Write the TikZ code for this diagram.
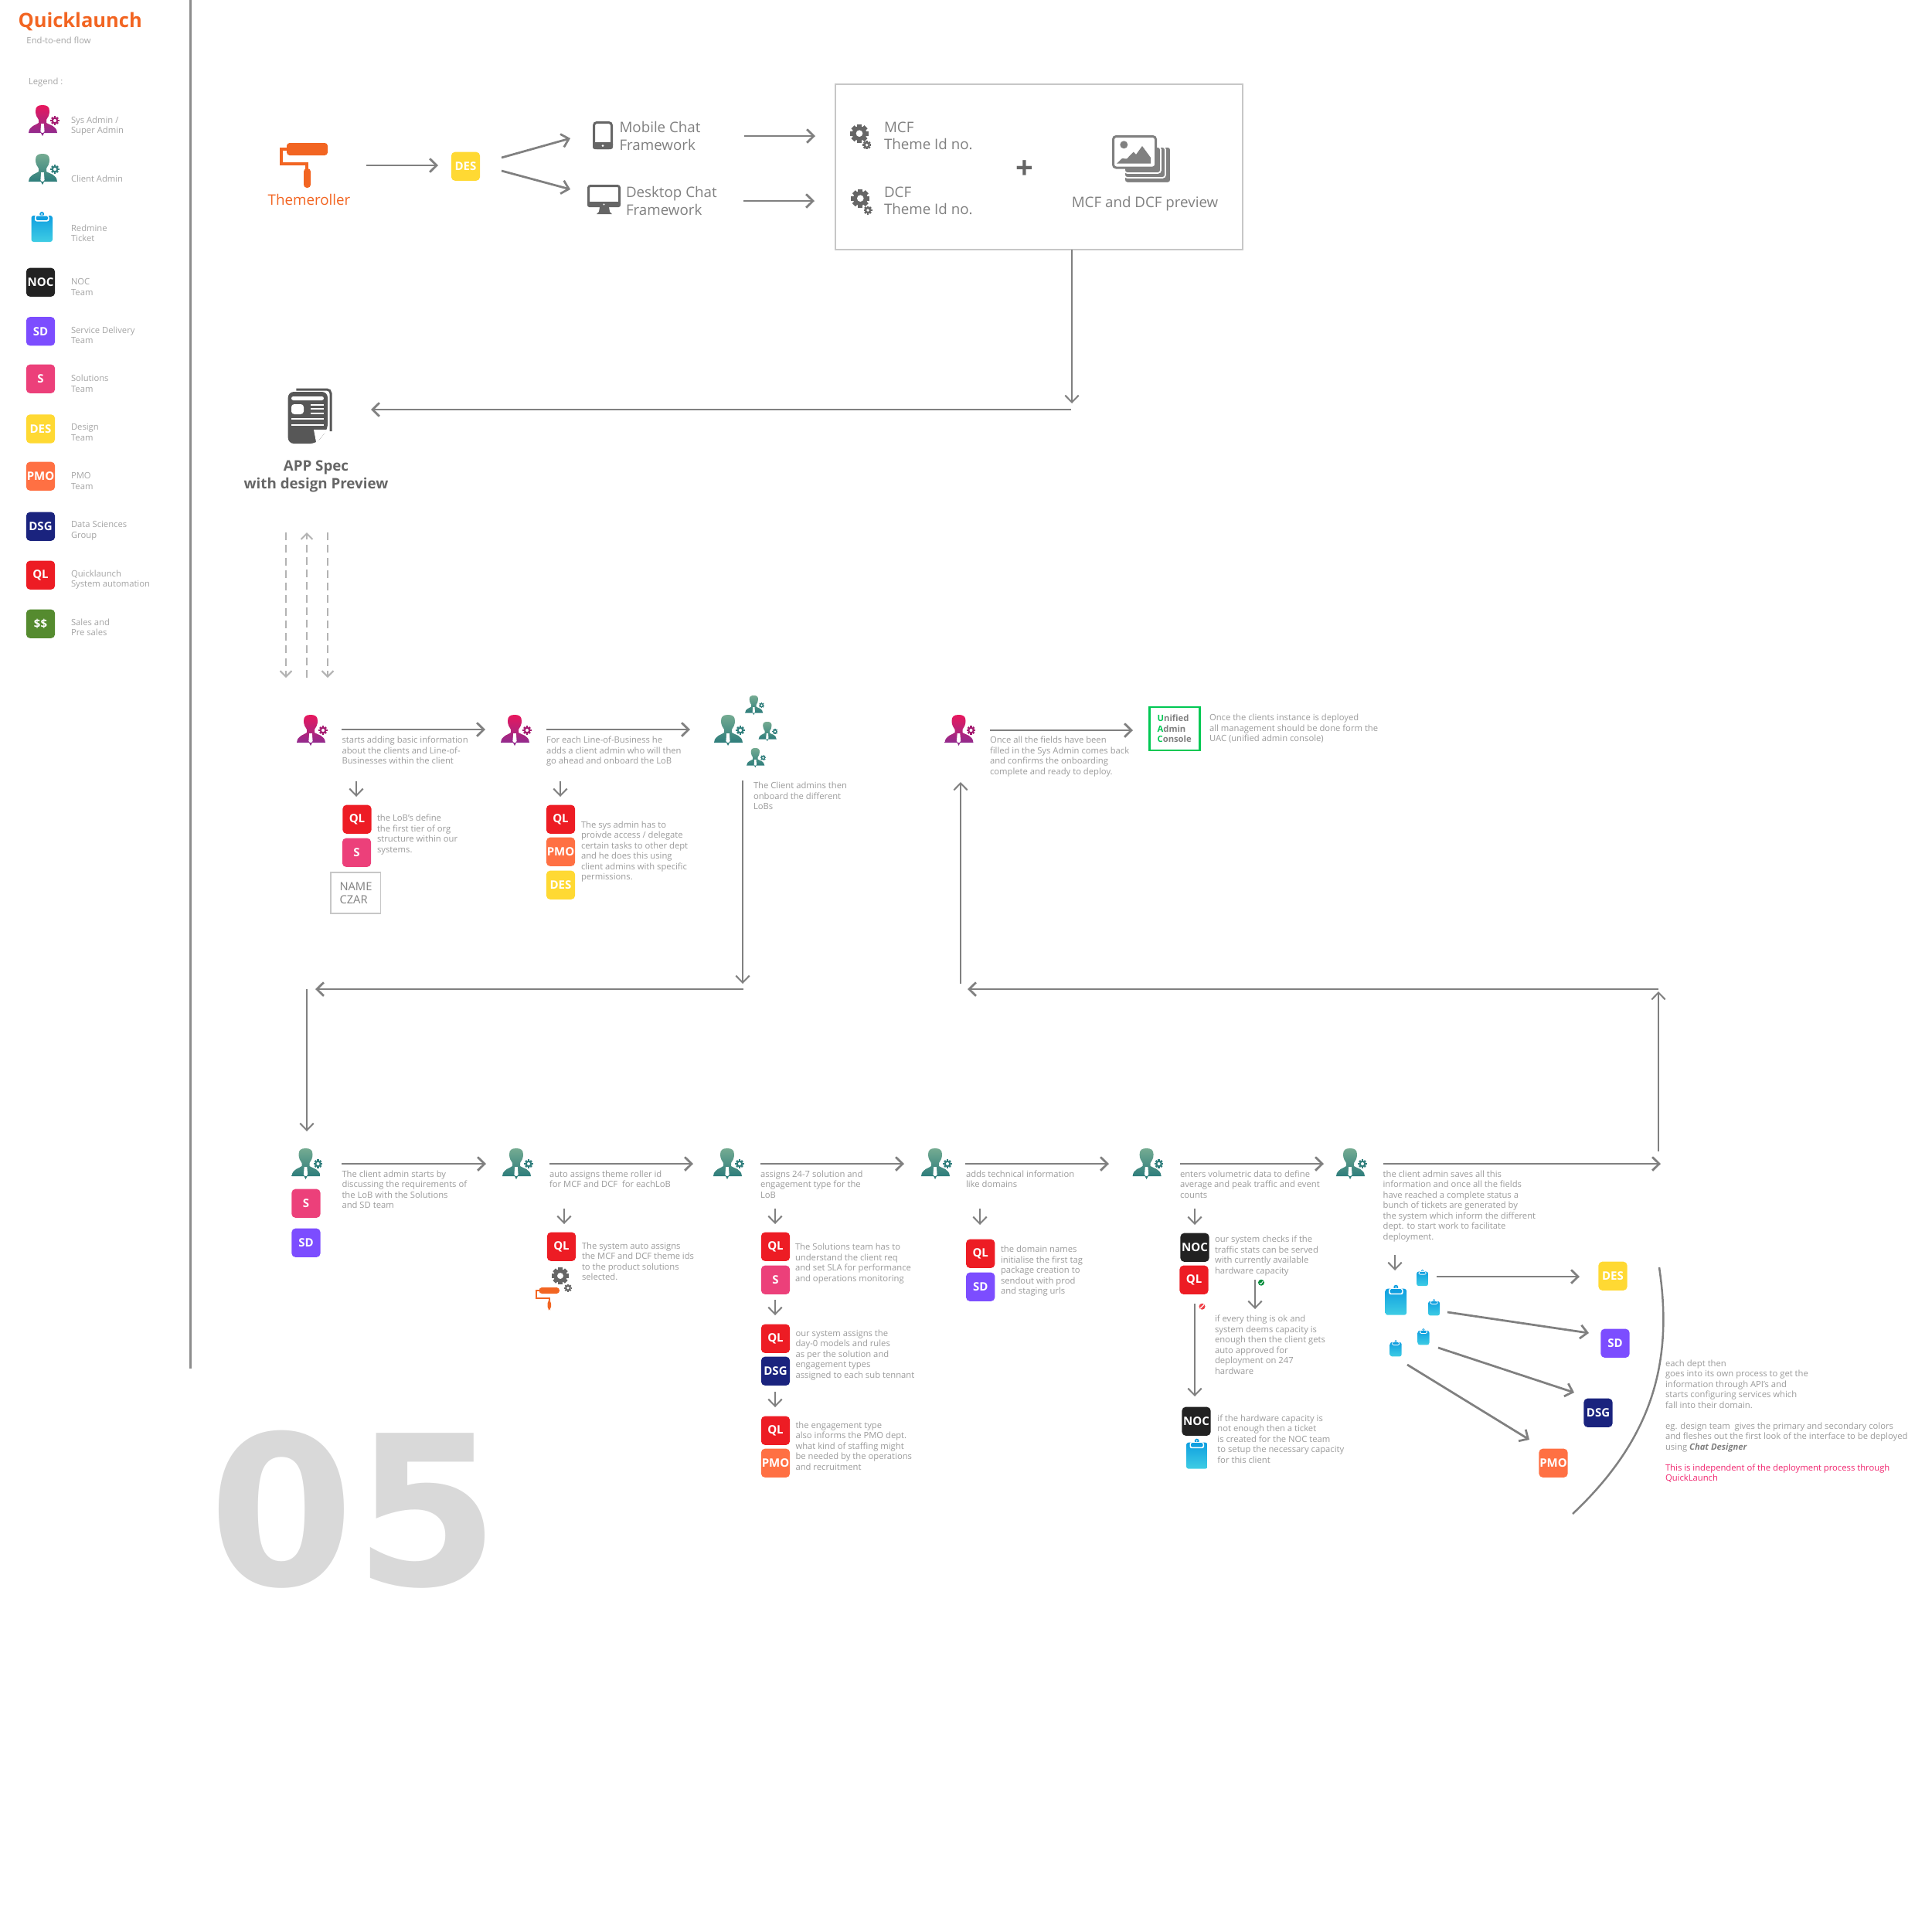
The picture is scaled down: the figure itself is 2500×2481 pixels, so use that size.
\documentclass[tikz,border=0pt]{standalone}
\usepackage{fontspec}
\setmainfont{Open Sans}
\newfontfamily\numfont{DejaVu Sans}
\usetikzlibrary{arrows.meta}
\definecolor{colDES}{HTML}{FFD933}
\definecolor{colSD}{HTML}{7C4DFF}
\definecolor{colS}{HTML}{EC407A}
\definecolor{colNOC}{HTML}{222222}
\definecolor{colPMO}{HTML}{FF7043}
\definecolor{colDSG}{HTML}{1A237E}
\definecolor{colQL}{HTML}{ED1C24}
\definecolor{colSS}{HTML}{558B2F}
\definecolor{colOrange}{HTML}{F26522}
\definecolor{colLine}{HTML}{808080}
\definecolor{colText}{HTML}{9A9A9A}
\definecolor{colIcon}{HTML}{666666}
\definecolor{colUAC}{HTML}{00C853}
\definecolor{colPink}{HTML}{F0246E}
\definecolor{colSysTop}{HTML}{E8175D}
\definecolor{colSysBot}{HTML}{912B8E}
\definecolor{colSysGear}{HTML}{A3186F}
\definecolor{colCliTop}{HTML}{75AB92}
\definecolor{colCliBot}{HTML}{2E7D7B}
\definecolor{colTkTop}{HTML}{0F9FE0}
\definecolor{colTkBot}{HTML}{3FCDE4}
\newcommand{\geardraw}[1]{
    \foreach \a in {0,45,...,315} \fill[#1,rotate=\a] (-.24,.7) rectangle (.24,1);
    \fill[#1] (0,0) circle (.78);
    \fill[white] (0,0) circle (.36);
}
\tikzset{
    flow/.style={draw=colLine,line width=1.1pt,-{Straight Barb[length=3.6pt,width=7pt]}},
    thinflow/.style={flow,line width=0.8pt},
    plainline/.style={draw=colLine,line width=1pt},
    dashflow/.style={draw=colLine!60,line width=0.8pt,dash pattern=on 4pt off 2.5pt,-{Straight Barb[length=3pt,width=6pt]}},
    bodytext/.style={anchor=north west,inner sep=0pt,outer sep=0pt,align=left,yshift=1.8pt,text=colText,font=\fontsize{4.5}{5.4}\selectfont,execute at begin node=\strut},
    legendtext/.style={bodytext,text=colText!90},
    midtext/.style={anchor=north west,inner sep=0pt,outer sep=0pt,align=left,yshift=2.6pt,text=colLine,font=\fontsize{7.5}{9}\selectfont,execute at begin node=\strut},
    badge/.style={rounded corners=2pt,minimum width=14.9pt,minimum height=14.9pt,inner sep=0pt,yshift=-0.5pt,text=white,font=\fontsize{6}{6}\selectfont\bfseries},
    framebox/.style={draw=black!22,line width=0.8pt},
    pics/gear/.style={code={\geardraw{#1}}},
    pics/person/.style n args={3}{code={
        \shade[top color=#1,bottom color=#2] (18,0) .. controls (24,0) and (27,2) .. (27,8) .. controls (27,13) and (25,16) .. (23,19) -- (23,23) .. controls (27,26) and (36,26) .. (37,36) -- (0,36) .. controls (1,26) and (10,26) .. (13,23) -- (13,19) .. controls (11,16) and (9,13) .. (9,8) .. controls (9,2) and (12,0) .. (18,0) -- cycle;
        \fill[white] (16.2,24) -- (19.8,24) -- (20.6,34) -- (18,37) -- (15.4,34) -- cycle;
        \fill[#2] (16,36) -- (20,36) -- (18,40) -- cycle;
        \begin{scope}[shift={(34,20)},scale=5.6]\geardraw{#3}\end{scope}
    }},
    pics/sysadmin/.style={/tikz/pics/person={colSysTop}{colSysBot}{colSysGear}},
    pics/clientadmin/.style={/tikz/pics/person={colCliTop}{colCliBot}{colCliBot}},
    pics/ticket/.style={code={
        \shade[top color=colTkTop,bottom color=colTkBot,rounded corners=1.2pt] (0,5) rectangle (27.5,39);
        \fill[colTkTop] (13.7,3) circle (3);
        \fill[white] (13.7,3) circle (1);
        \fill[white,rounded corners=1pt] (4.5,4.5) rectangle (23,12.5);
        \fill[colTkTop,rounded corners=.6pt] (6,5.5) rectangle (21.5,10.8);
    }},
    pics/roller/.style={code={
        \draw[colOrange,line width=#1] (10,8) -- (2,8) -- (2,27) -- (35,27) -- (35,34);
        \fill[colOrange,rounded corners=1.5pt] (9,0) rectangle (62,16);
        \fill[colOrange,rounded corners=1.6pt] (31,33) rectangle (40,58);
    }}
}
\begin{document}
\begin{tikzpicture}[x=0.4pt,y=-0.4pt]
\useasboundingbox (0,0) rectangle (2500,2481);
\foreach \n/\x/\y in {side1/246/0,side2/246/1771,
    rollS/474/214,rollE/567/214,desU1/649/204,desU2/738/179,desD1/649/221,desD2/738/245,
    mobS/963/176,mobE/1055/176,deskS/962/260,deskE/1054/260,boxS/1387/323,boxE/1387/522,
    specS/1386/530,specE/480/530,
    dashA1/370/689,dashA2/370/877,dashB1/397/877,dashB2/397/689,dashC1/424/689,dashC2/424/877,
    sysA1/442/944,sysA2/628/944,sysB1/707/944,sysB2/893/944,downA1/461/1011,downA2/461/1031,downB1/725/1011,downB2/725/1031,
    cliS/961/1010,cliE/961/1273,backS/962/1280,backE/408/1280,leftS/397/1280,leftE/397/1464,
    rgtS/2146/1490,rgtE/2146/1283,longS/2146/1280,longE/1252/1280,upS/1243/1273,upE/1243/1012,
    uacS/1281/945,uacE/1466/945,
    rowA1/442/1506,rowA2/629/1506,rowB1/711/1506,rowB2/897/1506,rowC1/984/1506,rowC2/1170/1506,
    rowD1/1249/1506,rowD2/1435/1506,rowE1/1527/1506,rowE2/1713/1506,rowF1/1790/1506,rowF2/2149/1506,
    dnB1/730/1564,dnB2/730/1584,dnC1/1003/1564,dnC2/1003/1584,dnD1/1003/1682,dnD2/1003/1702,dnE1/1003/1801,dnE2/1003/1821,
    dnF1/1268/1564,dnF2/1268/1585,dnG1/1546/1564,dnG2/1546/1585,okS/1624/1656,okE/1624/1694,noS/1546/1687,noE/1546/1807,
    dnH1/1805/1624,dnH2/1805/1644,
    tkA1/1859/1652,tkA2/2044/1652,tkB1/1873/1698,tkB2/2056/1725,tkC1/1861/1744,tkC2/2037/1802,tkD1/1821/1766,tkD2/1979/1863,
    arcS/2147/1640,arcE/2035/1959}
    \coordinate (\n) at (\x,\y);
\draw[colLine!90,line width=1.2pt] (side1)--(side2);
\node[anchor=west,inner sep=0pt,text=colOrange,font=\fontsize{10.2}{12}\selectfont\bfseries] (title) at (23,28) {Quicklaunch};
\node[legendtext] (subtitle) at (34.5,51.5) {End-to-end flow};
\node[legendtext] (legendhead) at (37,105) {Legend :};
\foreach \n/\y/\t in {legSys/155/{Sys Admin /\\Super Admin},legCli/231/{Client Admin},legTk/295/{Redmine\\Ticket},legNOC/365/{NOC\\Team},legSD/427/{Service Delivery\\Team},legS/489.6/{Solutions\\Team},legDES/553/{Design\\Team},legPMO/616/{PMO\\Team},legDSG/679/{Data Sciences\\Group},legQL/742/{Quicklaunch\\System automation},legSS/805/{Sales and\\Pre sales}}
    \node[legendtext] (\n) at (92,\y) {\t};
\pic at (37,136) {sysadmin};
\pic at (37,199) {clientadmin};
\pic at (40.5,274) {ticket};
\foreach \n/\t/\x/\y in {bNOC/NOC/52.5/364,bSD/SD/52.5/427.5,bS/S/52.5/489,bDES/DES/52.5/553.7,bPMO/PMO/52.5/615,bDSG/DSG/52.5/680,bQL/QL/52.5/743,
    topDES/DES/602.5/214,aQL/QL/462/1059,aS/S/461.5/1102,cQL/QL/725.5/1059,cPMO/PMO/725.5/1101,cDES/DES/725.5/1144,
    dS/S/396/1556,dSD/SD/396/1607,eQL/QL/726.5/1612,fQL/QL/1003.5/1612,fS/S/1003.5/1655,gQL/QL/1003.5/1731,gDSG/DSG/1003.5/1773,hQL/QL/1003.5/1850,hPMO/PMO/1003.5/1892,
    iQL/QL/1268.7/1621,iSD/SD/1268.7/1664,jNOC/NOC/1546/1613,jQL/QL/1545/1655,kNOC/NOC/1548/1838,
    mDES/DES/2087/1650,mSD/SD/2090/1737,mDSG/DSG/2068/1827,mPMO/PMO/2010/1892}
    \node[badge,fill=col\t] (\n) at (\x,\y) {\t};
\node[badge,fill=colSS] (bSS) at (52.5,806) {\$\$};
\pic at (362,185) {roller=1.4pt};
\node[inner sep=0pt,text=colOrange,font=\fontsize{7.5}{9}\selectfont] (themeroller) at (400,258.5) {Themeroller};
\draw[colIcon,line width=1.2pt,rounded corners=1.5pt] (768.5,158.5) rectangle (791.5,191.5);
\fill[colIcon,rounded corners=1pt] (767,184) rectangle (793,193);
\fill[white] (780,188.5) circle (1.5);
\draw[colIcon,line width=1.2pt,rounded corners=1pt] (761.5,240.5) rectangle (801.5,266);
\fill[colIcon,rounded corners=1pt] (760,261) rectangle (803,268);
\fill[white] (781.5,264.5) circle (1.2);
\fill[colIcon] (776,268) -- (788,268) -- (789,274) -- (792,277) -- (772,277) -- (775,274) -- cycle;
\node[midtext] (mobile) at (801.5,164) {Mobile Chat\\Framework};
\node[midtext] (desktop) at (810,248) {Desktop Chat\\Framework};
\draw[framebox] (1081,109) rectangle (1608,323);
\pic[scale=12] at (1112,172.7) {gear=colIcon};
\pic[scale=5.5] at (1121.7,187.7) {gear=colIcon};
\pic[scale=12] at (1113.3,256.7) {gear=colIcon};
\pic[scale=5.5] at (1123,272) {gear=colIcon};
\node[midtext] (mcf) at (1144,164) {MCF\\Theme Id no.};
\node[midtext] (dcf) at (1144,248) {DCF\\Theme Id no.};
\node[inner sep=0pt,text=colIcon,font=\fontsize{16}{16}\selectfont\bfseries] (plus) at (1326,220) {+};
\foreach \r/\b in {1515/236.7,1508/230,1502/224}
    \fill[colLine,draw=white,line width=0.7pt,rounded corners=1.5pt] (1455,190) rectangle (\r,\b);
\draw[colLine,fill=white,line width=1.2pt,rounded corners=1.5pt] (1440.5,176.5) rectangle (1495.5,217);
\fill[colLine] (1454.3,187.3) circle (5);
\fill[colLine] (1445,211.7) -- (1452,205) -- (1458,205.5) -- (1466.7,196.7) -- (1470,200) -- (1478,189) -- (1489,204) -- (1489,211.7) -- cycle;
\node[inner sep=0pt,text=colLine,font=\fontsize{7.5}{9}\selectfont] (preview) at (1481.5,263.5) {MCF and DCF preview};
\draw[colIcon!85!black,line width=1.2pt,rounded corners=2pt] (383.3,504) -- (428,504) -- (428,558);
\fill[colIcon!85!black,rounded corners=3pt] (372.7,507) -- (424,507) -- (424,556) -- (409,574) -- (372.7,574) -- cycle;
\fill[white] (406,556) -- (424,556) -- (409.3,573.3) -- cycle;
\fill[white,rounded corners=1pt] (377,513) rectangle (419,518);
\fill[white,rounded corners=1.5pt] (377,523) rectangle (393,536);
\foreach \y in {524.3,529.3,534.7} \fill[white] (401.7,\y-1) rectangle (419,\y+1);
\foreach \y in {542,550} \fill[white] (377,\y-1) rectangle (419,\y+1);
\node[inner sep=0pt,align=center,text=colIcon,font=\fontsize{7.5}{9}\selectfont\bfseries] (appspec) at (409,616.5) {APP Spec\\with design Preview};
\pic at (384,925) {sysadmin};
\pic at (648,925) {sysadmin};
\pic at (1222.5,925) {sysadmin};
\pic at (924,925) {clientadmin};
\foreach \x/\y in {964/900,981.5/934,966/968} \pic[scale=.63] at (\x,\y) {clientadmin};
\foreach \x in {377.5,650,923,1192,1465.6,1729} \pic at (\x,1486) {clientadmin};
\node[bodytext] (tA) at (442.5,957.7) {starts adding basic information\\about the clients and Line-of-\\Businesses within the client};
\node[bodytext] (tB) at (707,957.7) {For each Line-of-Business he\\adds a client admin who will then\\go ahead and onboard the LoB};
\node[bodytext] (tC) at (975,1016.7) {The Client admins then\\onboard the different\\LoBs};
\node[bodytext] (tD) at (488,1058.7) {the LoB’s define\\the first tier of org\\structure within our\\systems.};
\node[bodytext] (tE) at (752,1067.3) {The sys admin has to\\proivde access / delegate\\certain tasks to other dept\\and he does this using\\client admins with specific\\permissions.};
\node[draw=black!22,line width=0.7pt,minimum width=25.8pt,minimum height=21.2pt,inner sep=0pt] (czarbox) at (460.2,1155.5) {};
\node[anchor=north west,inner sep=0pt,align=left,yshift=2.2pt,text=colLine,font=\fontsize{5.9}{7}\selectfont,execute at begin node=\strut] (czar) at (439,1146.7) {NAME\\CZAR};
\node[bodytext] (tF) at (1281,957.7) {Once all the fields have been\\filled in the Sys Admin comes back\\and confirms the onboarding\\complete and ready to deploy.};
\node[draw=colUAC,line width=1.1pt,minimum width=26pt,minimum height=22.4pt,inner sep=0pt] (uac) at (1520,943) {};
\node[bodytext,text=colLine,font=\fontsize{4.5}{5.4}\selectfont\bfseries] (uactext) at (1497.6,929.7) {{\color{colUAC}U}nified\\{\color{colUAC}A}dmin\\{\color{colUAC}C}onsole};
\node[bodytext] (tG) at (1565,928.7) {Once the clients instance is deployed\\all management should be done form the\\UAC (unified admin console)};
\node[bodytext] (tH) at (442.5,1519.3) {The client admin starts by\\discussing the requirements of\\the LoB with the Solutions\\and SD team};
\node[bodytext] (tI) at (711,1519.3) {auto assigns theme roller id\\for MCF and DCF\ \ for eachLoB};
\node[bodytext] (tJ) at (984,1519.3) {assigns 24-7 solution and\\engagement type for the\\LoB};
\node[bodytext] (tK) at (1250,1519.3) {adds technical information\\like domains};
\node[bodytext] (tL) at (1527,1519.3) {enters volumetric data to define\\average and peak traffic and event\\counts};
\node[bodytext] (tM) at (1789.6,1519.3) {the client admin saves all this\\information and once all the fields\\have reached a complete status a\\bunch of tickets are generated by\\the system which inform the different\\dept. to start work to facilitate\\deployment.};
\node[bodytext] (tN) at (753,1612) {The system auto assigns\\the MCF and DCF theme ids\\to the product solutions\\selected.};
\pic[scale=11] at (725,1651) {gear=colIcon};
\pic[scale=5] at (735,1666.7) {gear=colIcon};
\pic[scale=.5] at (693,1666) {roller=0.8pt};
\node[bodytext] (tO) at (1029,1613.7) {The Solutions team has to\\understand the client req\\and set SLA for performance\\and operations monitoring};
\node[bodytext] (tP) at (1029.5,1725) {our system assigns the\\day-0 models and rules\\as per the solution and\\engagement types\\assigned to each sub tennant};
\node[bodytext] (tQ) at (1029.5,1844) {the engagement type\\also informs the PMO dept.\\what kind of staffing might\\be needed by the operations\\and recruitment};
\node[bodytext] (tR) at (1295,1616.7) {the domain names\\initialise the first tag\\package creation to\\sendout with prod\\and staging urls};
\node[bodytext] (tS) at (1572,1603.7) {our system checks if the\\traffic stats can be served\\with currently available\\hardware capacity};
\fill[colUAC!70!black] (1632,1659.7) circle (4);
\draw[white,line width=0.35pt] (1630,1660) -- (1631.6,1661.6) -- (1634.2,1658);
\fill[colQL!85!white] (1555.5,1690.7) circle (4);
\draw[white,line width=0.5pt] (1553,1693.2) -- (1558,1688.2);
\node[bodytext] (tT) at (1572,1706.7) {if every thing is ok and\\system deems capacity is\\enough then the client gets\\auto approved for\\deployment on 247\\hardware};
\pic at (1535,1861.7) {ticket};
\node[bodytext] (tU) at (1575.4,1835) {if the hardware capacity is\\not enough then a ticket\\is created for the NOC team\\to setup the necessary capacity\\for this client};
\pic at (1792.6,1662.7) {ticket};
\foreach \x/\y in {1833/1642.7,1848/1681,1834.4/1719,1798.6/1734} \pic[scale=.55] at (\x,\y) {ticket};
\node[bodytext] (tV) at (2155,1764.3) {each dept then\\goes into its own process to get the\\information through API’s and\\starts configuring services which\\fall into their domain.\\[5.4pt]eg. design team\ \ gives the primary and secondary colors\\and fleshes out the first look of the interface to be deployed\\using {\color{colLine}\bfseries\itshape Chat Designer}};
\node[bodytext,text=colPink] (tW) at (2155,1899.3) {This is independent of the deployment process through\\QuickLaunch};
\node[anchor=base west,inner sep=0pt,text=black!15,font=\fontsize{108}{108}\numfont\bfseries] (bignum) at (270,2051) {05};
\draw[flow] (rollS) -- (rollE);
\draw[flow] (desU1) -- (desU2);
\draw[flow] (desD1) -- (desD2);
\draw[flow] (mobS) -- (mobE);
\draw[flow] (deskS) -- (deskE);
\draw[thinflow] (boxS) -- (boxE);
\draw[flow] (specS) -- (specE);
\draw[dashflow] (dashA1) -- (dashA2);
\draw[dashflow] (dashB1) -- (dashB2);
\draw[dashflow] (dashC1) -- (dashC2);
\foreach \a/\b in {sysA1/sysA2,sysB1/sysB2,uacS/uacE,backS/backE,longS/longE,rowA1/rowA2,rowB1/rowB2,rowC1/rowC2,rowD1/rowD2,rowE1/rowE2,rowF1/rowF2,tkA1/tkA2,tkB1/tkB2,tkC1/tkC2,tkD1/tkD2}
    \draw[flow] (\a) -- (\b);
\foreach \a/\b in {downA1/downA2,downB1/downB2,cliS/cliE,leftS/leftE,rgtS/rgtE,upS/upE,dnB1/dnB2,dnC1/dnC2,dnD1/dnD2,dnE1/dnE2,dnF1/dnF2,dnG1/dnG2,okS/okE,noS/noE,dnH1/dnH2}
    \draw[thinflow] (\a) -- (\b);
\draw[plainline] (arcS) .. controls (2165,1760) and (2140,1860) .. (arcE);
\end{tikzpicture}
\end{document}
